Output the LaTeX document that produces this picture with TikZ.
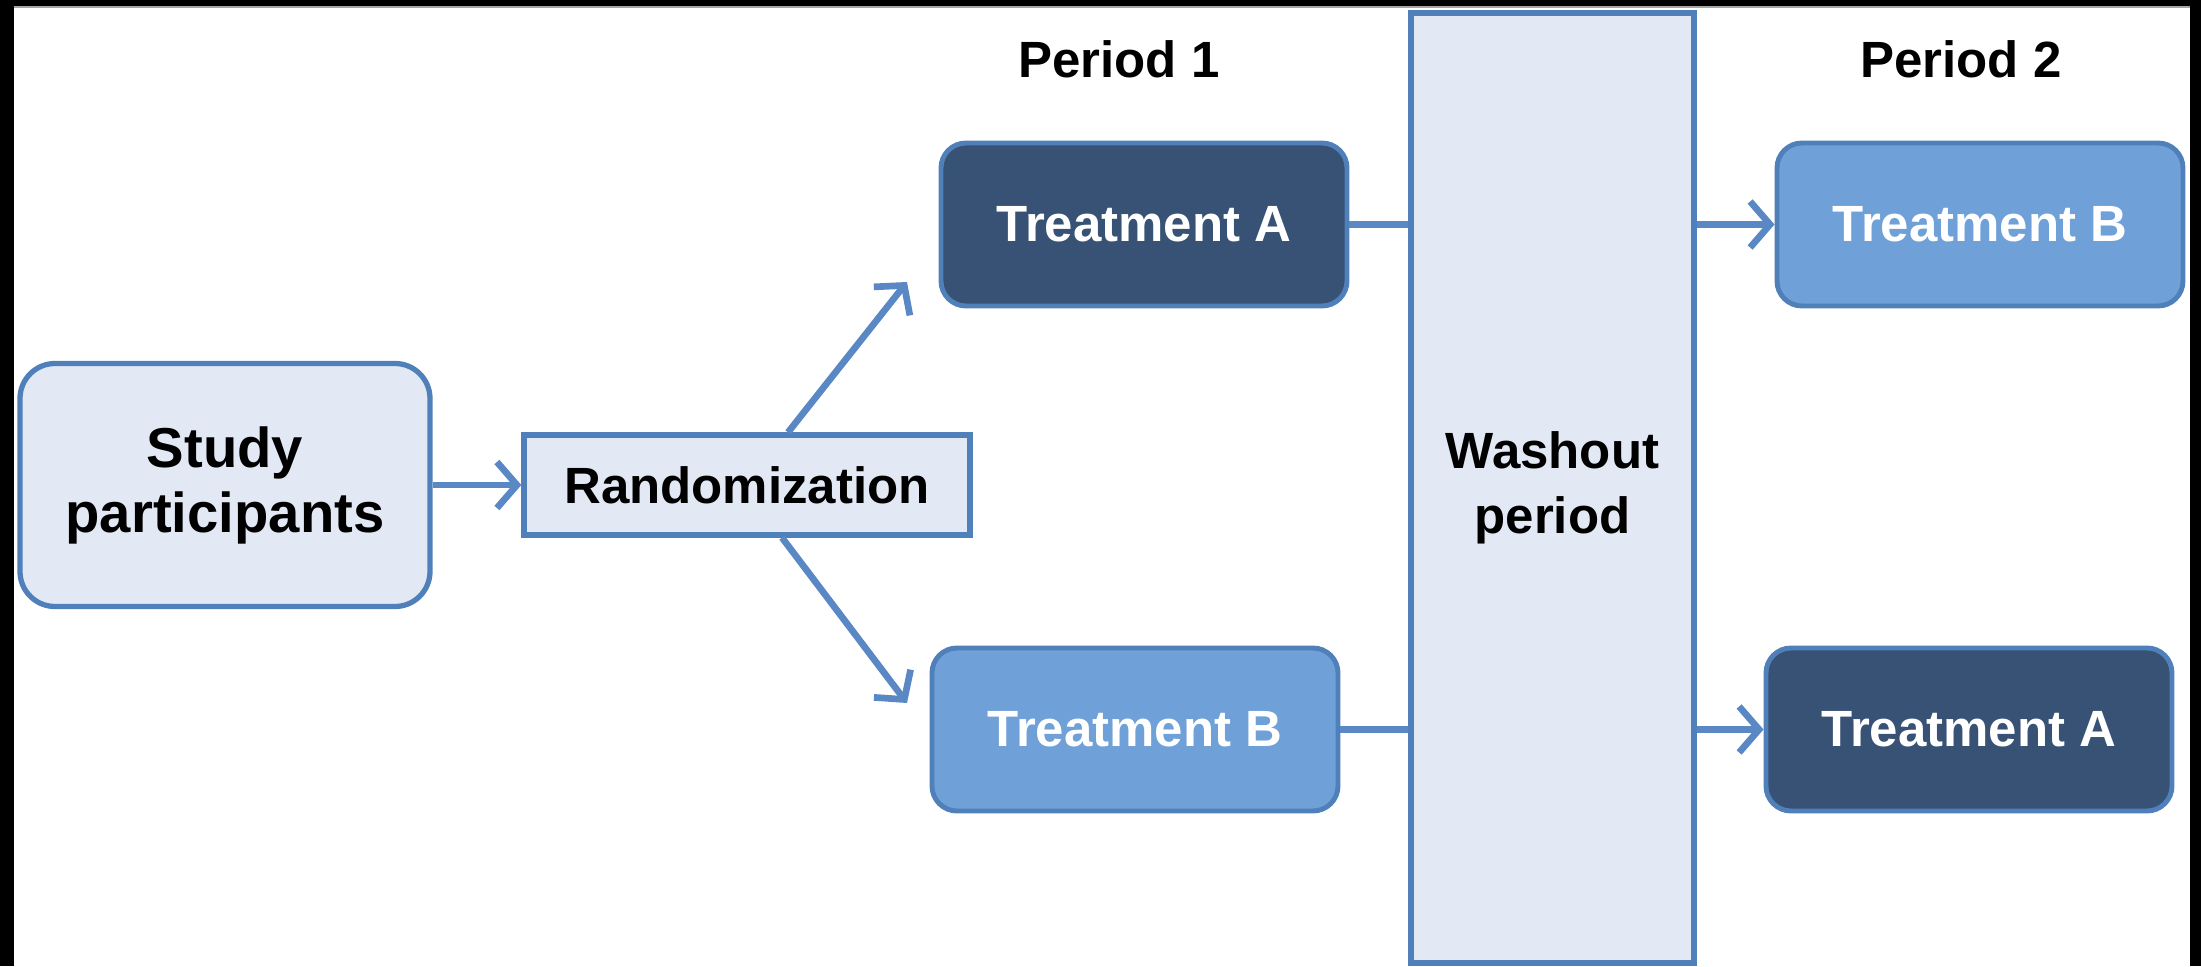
\documentclass[tikz,border=0pt]{standalone}
\usepackage{fontspec}
\setmainfont{Liberation Sans}
\usetikzlibrary{arrows.meta,calc}
\definecolor{lightfill}{HTML}{E2E9F4}
\definecolor{edgeblue}{HTML}{5080BA}
\definecolor{darkfill}{HTML}{375274}
\definecolor{midfill}{HTML}{6FA0D8}
\definecolor{arrowblue}{HTML}{5A88C4}
\tikzset{
  lightbox/.style={draw=edgeblue, fill=lightfill, line width=1.5pt, align=center, font=\bfseries\fontsize{14.5}{18.5}\selectfont, text=black, inner sep=0pt},
  treatbox/.style={draw=edgeblue, line width=1.4pt, rounded corners=0.25cm, minimum width=4.06cm, minimum height=1.63cm, font=\bfseries\fontsize{14.5}{18}\selectfont, text=white, inner sep=0pt},
  darkbox/.style={treatbox, fill=darkfill},
  midbox/.style={treatbox, fill=midfill},
  periodlabel/.style={font=\bfseries\fontsize{14.5}{18}\selectfont, text=black},
  conn/.style={draw=arrowblue, line width=1.9pt},
  arr/.style={conn, -{Straight Barb[length=2mm,width=4.6mm,line width=1.9pt]}}
}
\begin{document}
\begin{tikzpicture}
\useasboundingbox (0,0) rectangle (22.01,9.66);
\fill[black] (0,0) rectangle (22.01,9.66);
\fill[white] (0.14,0) rectangle (21.90,9.59);
\draw[gray!70, line width=0.6pt] (0.14,9.59) -- (21.90,9.59);

\node[lightbox, rounded corners=0.35cm, minimum width=4.10cm, minimum height=2.43cm, font=\bfseries\fontsize{16}{18.5}\selectfont] (study) at (2.25,4.81) {Study\\participants};
\node[lightbox, minimum width=4.46cm, minimum height=1.00cm] (rand) at (7.47,4.81) {Randomization};
\node[lightbox, minimum width=2.83cm, minimum height=9.50cm] (wash) at (15.525,4.78) {Washout\\period};

\node[darkbox] (tA1) at (11.44,7.415) {Treatment A};
\node[midbox] (tB1) at (11.35,2.365) {Treatment B};
\node[midbox] (tB2) at (19.80,7.415) {Treatment B};
\node[darkbox] (tA2) at (19.69,2.365) {Treatment A};

\node[periodlabel] (p1) at (11.19,9.07) {Period 1};
\node[periodlabel] (p2) at (19.61,9.07) {Period 2};

\coordinate (upend) at (9.07,6.84);
\coordinate (downend) at (9.07,2.63);

\draw[arr] (study.east) -- (rand.west);
\draw[arr] ($(rand.north)+(0.41,0)$) -- (upend);
\draw[arr] ($(rand.south)+(0.35,0)$) -- (downend);
\draw[conn] (tA1.east) -- (tA1.east -| wash.west);
\draw[conn] (tB1.east) -- (tB1.east -| wash.west);
\draw[arr] (tB2.west -| wash.east) -- (tB2.west);
\draw[arr] (tA2.west -| wash.east) -- (tA2.west);
\end{tikzpicture}
\end{document}
